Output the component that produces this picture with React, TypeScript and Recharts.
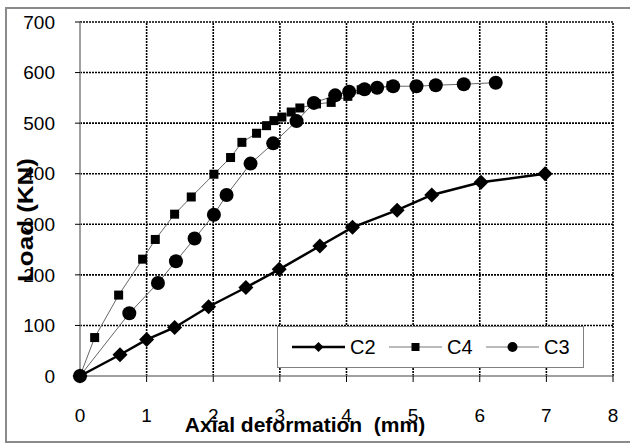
import { LineChart, Line, XAxis, YAxis, ReferenceLine, Legend } from 'recharts';

const X_TICKS = [0, 1, 2, 3, 4, 5, 6, 7, 8];
const Y_TICKS = [0, 100, 200, 300, 400, 500, 600, 700];

// Axial deformation (mm) / load (kN)
const C2_DEF = [0, 0.6, 1.0, 1.42, 1.93, 2.49, 2.99, 3.6, 4.09, 4.76, 5.28, 6.02, 6.98];
const C2_LOAD = [0, 42, 72, 96, 137, 175, 211, 257, 294, 328, 358, 383, 400];

const C4_DEF = [0, 0.22, 0.58, 0.94, 1.13, 1.42, 1.67, 2.01, 2.26, 2.43, 2.65, 2.8, 2.91, 3.03, 3.17, 3.3, 3.55, 3.77, 4.02, 4.22, 4.45, 4.67];
const C4_LOAD = [0, 76, 160, 231, 270, 320, 354, 399, 432, 462, 480, 495, 505, 512, 522, 530, 538, 541, 553, 566, 570, 574];

const C3_DEF = [0, 0.74, 1.17, 1.44, 1.72, 2.01, 2.2, 2.56, 2.9, 3.25, 3.51, 3.83, 4.04, 4.27, 4.46, 4.7, 5.05, 5.34, 5.76, 6.24];
const C3_LOAD = [0, 124, 184, 227, 272, 319, 358, 420, 460, 504, 540, 555, 562, 567, 570, 573, 573, 575, 577, 580];

const SERIES = ['C2', 'C4', 'C3'];

const zip = (xs: number[], ys: number[]) => xs.map((x, i) => ({ x, y: ys[i] }));
const c2Data = zip(C2_DEF, C2_LOAD);
const c4Data = zip(C4_DEF, C4_LOAD);
const c3Data = zip(C3_DEF, C3_LOAD);

const FONT = '"Liberation Sans", Arial, sans-serif';

const Diamond = (props: any) => {
  const { cx, cy, index } = props;
  if (cx == null || cy == null) return null;
  const r = 7.5;
  return <polygon key={`d-${index}`} points={`${cx},${cy - r} ${cx + r},${cy} ${cx},${cy + r} ${cx - r},${cy}`} fill="#000" />;
};

const Square = (props: any) => {
  const { cx, cy, index } = props;
  if (cx == null || cy == null) return null;
  return <rect key={`s-${index}`} x={cx - 4.5} y={cy - 4.5} width={9} height={9} fill="#000" />;
};

const Dot = (props: any) => {
  const { cx, cy, index } = props;
  if (cx == null || cy == null) return null;
  return <circle key={`c-${index}`} cx={cx} cy={cy} r={7} fill="#000" />;
};

const legendIcon = (name: string) => {
  if (name === 'C2') {
    return (
      <svg width={53} height={14}>
        <line x1={0} y1={7} x2={53} y2={7} stroke="#000" strokeWidth={2.5} />
        <polygon points="26.5,2 31.5,7 26.5,12 21.5,7" fill="#000" />
      </svg>
    );
  }
  if (name === 'C4') {
    return (
      <svg width={53} height={14}>
        <line x1={0} y1={7} x2={53} y2={7} stroke="#777" strokeWidth={1} />
        <rect x={22.5} y={3} width={8} height={8} fill="#000" />
      </svg>
    );
  }
  return (
    <svg width={53} height={14}>
      <line x1={0} y1={7} x2={53} y2={7} stroke="#777" strokeWidth={1} />
      <circle cx={26.5} cy={7} r={5} fill="#000" />
    </svg>
  );
};

const renderLegend = () => (
  <div style={{ width: 307, height: 42, boxSizing: 'border-box', border: '1px solid #808080', background: '#fff', display: 'flex', alignItems: 'center', paddingLeft: 14, fontFamily: FONT, fontSize: 20, color: '#000' }}>
    {SERIES.map((name) => (
      <div key={name} style={{ width: 100, display: 'flex', alignItems: 'center' }}>
        {legendIcon(name)}
        <span style={{ marginLeft: 5 }}>{name}</span>
      </div>
    ))}
  </div>
);

const XTitle = (props: any) => {
  const { viewBox } = props;
  return (
    <text x={viewBox.x + 225} y={viewBox.y + 56} textAnchor="middle" fontFamily={FONT} fontSize={21} fontWeight="bold" fill="#000" style={{ whiteSpace: 'pre' }}>
      Axial deformation  (mm)
    </text>
  );
};

const YTitle = (props: any) => {
  const { viewBox } = props;
  const cx = viewBox.x + 33;
  const cy = 220;
  return (
    <text x={cx} y={cy} transform={`rotate(-90, ${cx}, ${cy})`} textAnchor="middle" fontFamily={FONT} fontSize={22} fontWeight="bold" fill="#000" textLength={124} lengthAdjust="spacingAndGlyphs">
      Load (KN)
    </text>
  );
};

export default function App() {
  return (
    <div style={{ position: 'absolute', left: 0, top: 0, width: 630, height: 446, overflow: 'hidden', background: '#fff' }}>
      <div style={{ position: 'absolute', left: 5, top: 7, width: 660, height: 432, border: '2px solid #8a8a8a' }} />
      <LineChart width={630} height={446} margin={{ top: 22, right: 17, left: 0, bottom: 0 }} style={{ position: 'absolute', left: 0, top: 0 }}>
        {X_TICKS.filter((v) => v > 0).map((v) => (
          <ReferenceLine key={`vx-${v}`} x={v} stroke="#000" strokeWidth={1.6} strokeDasharray="2 1" />
        ))}
        {Y_TICKS.filter((v) => v > 0).map((v) => (
          <ReferenceLine key={`hy-${v}`} y={v} stroke="#000" strokeWidth={1.6} strokeDasharray="2 1" />
        ))}
        <XAxis
          dataKey="x"
          type="number"
          domain={[0, 8]}
          ticks={X_TICKS}
          height={70}
          axisLine={{ stroke: '#808080', strokeWidth: 1.5 }}
          tickLine={{ stroke: '#000' }}
          tickSize={6}
          tickMargin={27}
          tick={{ fontSize: 19, fill: '#000', fontFamily: FONT }}
          label={<XTitle />}
        />
        <YAxis
          dataKey="y"
          type="number"
          domain={[0, 700]}
          ticks={Y_TICKS}
          width={80}
          axisLine={{ stroke: '#808080', strokeWidth: 1.5 }}
          tickLine={{ stroke: '#000' }}
          tickSize={5}
          tickMargin={20}
          tick={{ fontSize: 19, fill: '#000', fontFamily: FONT }}
          label={<YTitle />}
        />
        <Legend layout="horizontal" verticalAlign="middle" align="center" content={renderLegend} wrapperStyle={{ left: 277, top: 326, width: 307, height: 42 }} />
        <Line name="C2" data={c2Data} dataKey="y" type="linear" stroke="#000" strokeWidth={2.5} dot={Diamond} activeDot={false} isAnimationActive={false} />
        <Line name="C4" data={c4Data} dataKey="y" type="linear" stroke="#666" strokeWidth={1} dot={Square} activeDot={false} isAnimationActive={false} />
        <Line name="C3" data={c3Data} dataKey="y" type="linear" stroke="#666" strokeWidth={1} dot={Dot} activeDot={false} isAnimationActive={false} />
      </LineChart>
    </div>
  );
}
